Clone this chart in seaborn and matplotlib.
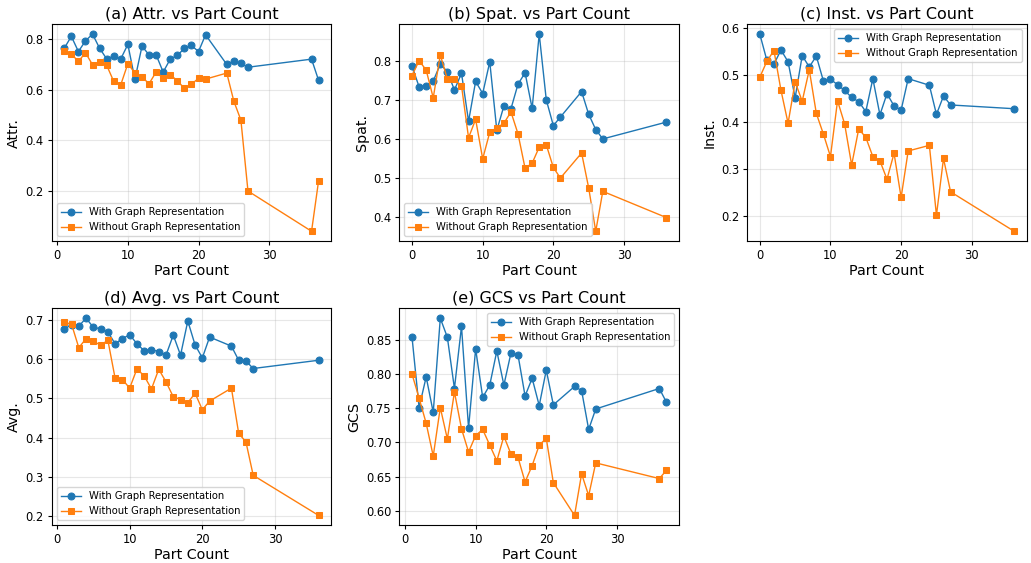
import matplotlib
matplotlib.use('Agg')
import matplotlib.pyplot as plt
from matplotlib.ticker import MultipleLocator
import seaborn as sns

# part counts present in each panel
parts_a = [1, 2, 3, 4, 5, 6, 7, 8, 9, 10, 11, 12, 13, 14, 15, 16, 17, 18, 19, 20, 21, 24, 25, 26, 27, 36, 37]
parts_b = [0, 1, 2, 3, 4, 5, 6, 7, 8, 9, 10, 11, 12, 13, 14, 15, 16, 17, 18, 19, 20, 21, 24, 25, 26, 27, 36]
parts_c = parts_b
parts_d = [1, 2, 3, 4, 5, 6, 7, 8, 9, 10, 11, 12, 13, 14, 15, 16, 17, 18, 19, 20, 21, 24, 25, 26, 27, 36]
parts_e = parts_a

# (a) Attr.
attr_with = [0.764, 0.811, 0.751, 0.793, 0.820, 0.764, 0.722, 0.732, 0.722, 0.779, 0.641, 0.772, 0.738, 0.738,
             0.670, 0.721, 0.736, 0.763, 0.775, 0.751, 0.817, 0.700, 0.713, 0.704, 0.689, 0.721, 0.637]
attr_without = [0.753, 0.741, 0.712, 0.746, 0.699, 0.709, 0.697, 0.633, 0.620, 0.703, 0.666, 0.650, 0.624, 0.670,
                0.645, 0.659, 0.636, 0.605, 0.622, 0.645, 0.642, 0.666, 0.555, 0.480, 0.200, 0.041, 0.241]

# (b) Spat.
spat_with = [0.786, 0.733, 0.736, 0.748, 0.791, 0.772, 0.725, 0.768, 0.645, 0.747, 0.716, 0.797, 0.622, 0.684,
             0.677, 0.740, 0.769, 0.678, 0.868, 0.700, 0.634, 0.656, 0.721, 0.663, 0.624, 0.600, 0.643]
spat_without = [0.762, 0.800, 0.776, 0.705, 0.815, 0.753, 0.752, 0.736, 0.603, 0.650, 0.549, 0.617, 0.628, 0.640,
                0.669, 0.613, 0.525, 0.538, 0.579, 0.585, 0.527, 0.500, 0.564, 0.475, 0.364, 0.466, 0.399]

# (c) Inst.
inst_with = [0.587, 0.531, 0.523, 0.553, 0.528, 0.451, 0.541, 0.517, 0.540, 0.487, 0.491, 0.479, 0.467, 0.452,
             0.443, 0.422, 0.492, 0.415, 0.460, 0.434, 0.425, 0.492, 0.478, 0.416, 0.455, 0.436, 0.428]
inst_without = [0.495, 0.529, 0.552, 0.467, 0.397, 0.485, 0.444, 0.511, 0.418, 0.374, 0.326, 0.445, 0.396, 0.308,
                0.385, 0.367, 0.326, 0.317, 0.278, 0.333, 0.239, 0.338, 0.350, 0.201, 0.322, 0.251, 0.167]

# (d) Avg.
avg_with = [0.676, 0.688, 0.684, 0.704, 0.681, 0.677, 0.669, 0.639, 0.652, 0.662, 0.639, 0.621, 0.624, 0.619,
            0.610, 0.661, 0.610, 0.697, 0.636, 0.603, 0.656, 0.633, 0.597, 0.595, 0.576, 0.597]
avg_without = [0.694, 0.689, 0.629, 0.652, 0.646, 0.635, 0.648, 0.551, 0.548, 0.526, 0.575, 0.557, 0.524, 0.574,
               0.542, 0.504, 0.497, 0.489, 0.513, 0.471, 0.493, 0.526, 0.411, 0.389, 0.304, 0.202]

# (e) GCS
gcs_with = [0.854, 0.751, 0.796, 0.744, 0.882, 0.854, 0.779, 0.870, 0.721, 0.837, 0.766, 0.784, 0.834, 0.784,
            0.831, 0.828, 0.768, 0.794, 0.754, 0.806, 0.755, 0.782, 0.776, 0.719, 0.749, 0.779, 0.759]
gcs_without = [0.800, 0.765, 0.728, 0.680, 0.751, 0.705, 0.774, 0.720, 0.686, 0.710, 0.719, 0.696, 0.673, 0.709,
               0.683, 0.678, 0.642, 0.666, 0.696, 0.706, 0.641, 0.593, 0.654, 0.622, 0.670, 0.647, 0.659]

panels = [
    ('(a) Attr. vs Part Count', 'Attr.', parts_a, attr_with, attr_without, 'lower left', 0.2),
    ('(b) Spat. vs Part Count', 'Spat.', parts_b, spat_with, spat_without, 'lower left', 0.1),
    ('(c) Inst. vs Part Count', 'Inst.', parts_c, inst_with, inst_without, 'upper right', 0.1),
    ('(d) Avg. vs Part Count', 'Avg.', parts_d, avg_with, avg_without, 'lower left', 0.1),
    ('(e) GCS vs Part Count', 'GCS', parts_e, gcs_with, gcs_without, 'upper right', 0.05),
]

blue = '#1f77b4'
orange = '#ff7f0e'

fig, axes = plt.subplots(2, 3, figsize=(10.31, 5.63), dpi=100)
axes = axes.flatten()

for ax, (title, ylab, x, y_with, y_without, loc, ystep) in zip(axes, panels):
    sns.lineplot(x=x, y=y_with, ax=ax, color=blue, marker='o', markersize=5,
                 markeredgecolor=blue, linewidth=1.0, label='With Graph Representation')
    sns.lineplot(x=x, y=y_without, ax=ax, color=orange, marker='s', markersize=5,
                 markeredgecolor=orange, linewidth=1.0, label='Without Graph Representation')
    ax.set_title(title, fontsize=11.5, pad=4)
    ax.set_xlabel('Part Count', fontsize=10.3, labelpad=1)
    ax.set_ylabel(ylab, fontsize=10.3, labelpad=3)
    ax.xaxis.set_major_locator(MultipleLocator(10))
    ax.yaxis.set_major_locator(MultipleLocator(ystep))
    ax.tick_params(labelsize=8.3, length=2.9, pad=2.9)
    ax.grid(True, alpha=0.3)
    ax.legend(loc=loc, fontsize=7.2)

axes[5].remove()

fig.subplots_adjust(left=0.05, right=0.996, top=0.957, bottom=0.067, wspace=0.243, hspace=0.31)
plt.savefig('out.png', dpi=100)
